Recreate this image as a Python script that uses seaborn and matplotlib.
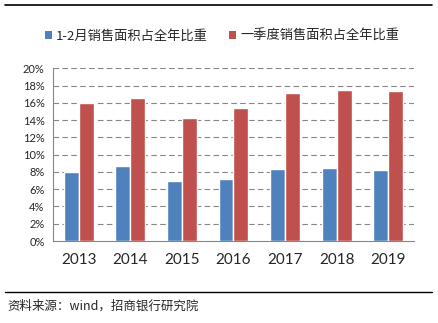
import matplotlib
matplotlib.use("Agg")
import matplotlib.pyplot as plt
import seaborn as sns
import pandas as pd
import numpy as np
from matplotlib.lines import Line2D
from matplotlib.patches import Patch

years = ["2013", "2014", "2015", "2016", "2017", "2018", "2019"]
jan_feb = [8.0, 8.7, 6.9, 7.2, 8.3, 8.5, 8.25]
q1 = [16.0, 16.6, 14.2, 15.4, 17.1, 17.5, 17.4]
series_names = ["1-2月销售面积占全年比重", "一季度销售面积占全年比重"]
yticks = [0, 2, 4, 6, 8, 10, 12, 14, 16, 18, 20]
source = "资料来源：wind，招商银行研究院"

sns.set_style("white")
plt.rcParams['font.family'] = ['Noto Sans CJK SC', 'DejaVu Sans']

df = pd.DataFrame({
    "year": years * 2,
    "value": jan_feb + q1,
    "series": [series_names[0]] * len(years) + [series_names[1]] * len(years),
})

colors = ["#4F81BD", "#C0504D"]
fig = plt.figure(figsize=(4.39, 3.23), dpi=100)
ax = fig.add_axes([53/439, 1 - 241/323, (414 - 53)/439, (241 - 68.3)/323])

sns.barplot(data=df, x="year", y="value", hue="series", palette=colors,
            width=0.58, saturation=1, ax=ax, legend=False, zorder=3)

ax.set_ylim(0, 20)
ax.set_xlim(-0.5, len(years) - 0.5)
ax.set_yticks(yticks)
ax.set_yticklabels([f"{v}%" for v in yticks], fontsize=8, family=['Lato', 'DejaVu Sans'])
ax.set_xticks(range(len(years)))
ax.set_xticklabels(years, fontsize=11, family=['Lato', 'DejaVu Sans'])
ax.set_xlabel("")
ax.set_ylabel("")
ax.tick_params(axis='x', length=0, pad=9)
ax.set_xticks(np.arange(-0.5, len(years)), minor=True)
ax.tick_params(axis='x', which='minor', length=4, color='#868686', width=0.8, direction='out')
ax.tick_params(axis='y', length=4, color='#868686', width=0.8, direction='out', pad=2)

for v in yticks[1:]:
    ax.axhline(v, color='#868686', linestyle=(0, (5, 3)), linewidth=0.8, zorder=1)

for s in ["top", "right"]:
    ax.spines[s].set_visible(False)
for s in ["left", "bottom"]:
    ax.spines[s].set_color('#868686')
    ax.spines[s].set_linewidth(0.8)

handles = [Patch(facecolor=c, edgecolor='none') for c in colors]
fig.legend(handles, series_names, loc='center', bbox_to_anchor=(222/439, 1 - 36/323),
           ncol=2, frameon=False, fontsize=9.5, handlelength=0.55, handleheight=0.55,
           handletextpad=0.3, columnspacing=1.6)

fig.add_artist(Line2D([5/439, 432/439], [1 - 4.5/323, 1 - 4.5/323], color='black', linewidth=1.2))
fig.add_artist(Line2D([5/439, 432/439], [1 - 291.5/323, 1 - 291.5/323], color='black', linewidth=1.0))
fig.text(7/439, 1 - 306/323, source, fontsize=9, va='center', ha='left')

fig.savefig("out.png", dpi=100)
